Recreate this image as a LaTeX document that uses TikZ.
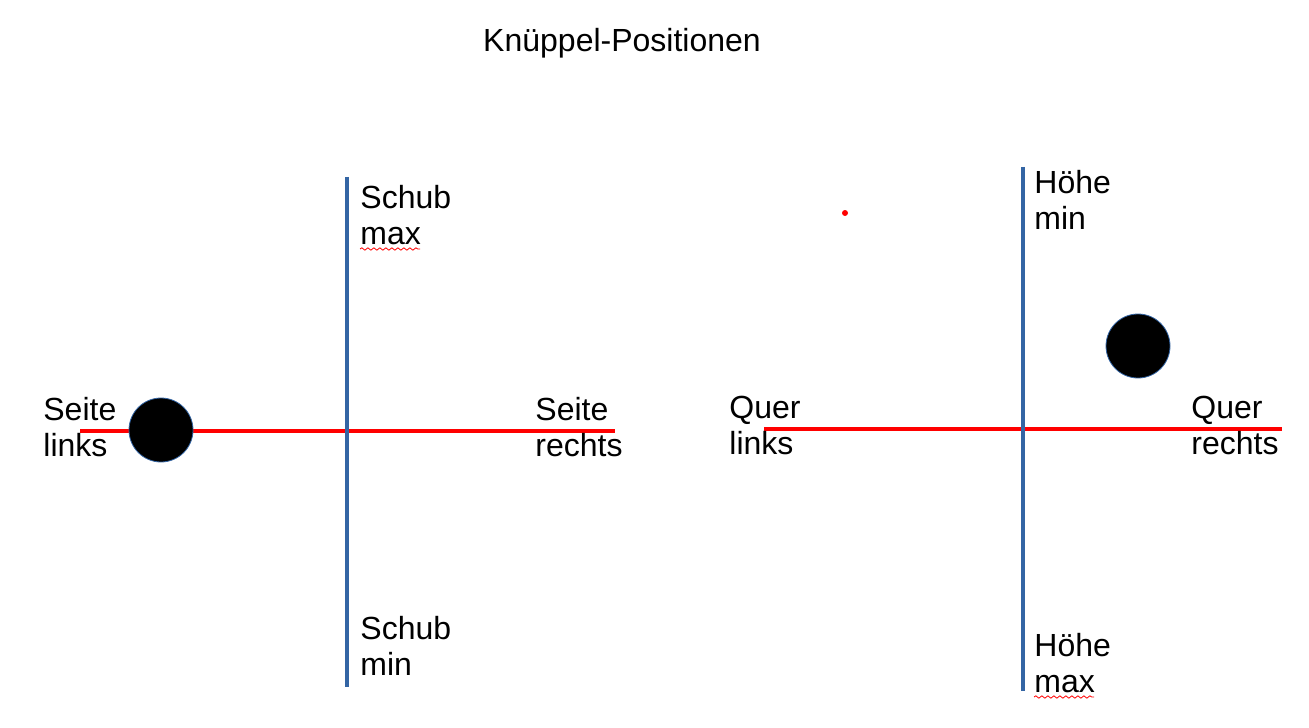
\documentclass[tikz,border=0pt]{standalone}
\usepackage{fontspec}
\setmainfont{Liberation Sans}
\usepackage{tikz}
\usetikzlibrary{decorations.pathmorphing}
\definecolor{axisblue}{HTML}{3465A4}
\definecolor{axisred}{HTML}{FF0000}
\tikzset{
  vaxis/.style={draw=axisblue, line width=2pt},
  haxis/.style={draw=axisred, line width=2pt},
  knob/.style={circle, fill=black, draw=axisblue, line width=0.4pt, minimum size=32pt, inner sep=0pt},
  lbl/.style={font=\fontsize{16}{18}\selectfont, align=left, anchor=base west, inner sep=0pt},
  spell/.style={draw=axisred, line width=0.4pt, decorate, decoration={snake, amplitude=0.6pt, segment length=3pt}},
}

\begin{document}
\begin{tikzpicture}[x=0.5pt, y=-0.5pt]
\fill[white] (0,0) rectangle (1309,727);
\useasboundingbox (0,0) rectangle (1309,727);

\node[lbl, anchor=base] (title) at (622,52) {Knüppel-Positionen};

% left stick: Schub / Seite
\coordinate (schubtop) at (347,177);
\coordinate (schubbot) at (347,687);
\coordinate (seitel) at (80,431);
\coordinate (seiter) at (615,431);
\draw[haxis] (seitel) -- (seiter);
\draw[vaxis] (schubtop) -- (schubbot);
\node[knob] (knobl) at (161,430) {};
\node[lbl] (schubmax) at (360,244) {Schub\\max};
\node[lbl] (schubmin) at (360,675) {Schub\\min};
\node[lbl] (seitelinks) at (43,456) {Seite\\links};
\node[lbl] (seiterechts) at (535,456) {Seite\\rechts};

% right stick: Hoehe / Quer
\coordinate (hoehetop) at (1023,167);
\coordinate (hoehebot) at (1023,691);
\coordinate (querl) at (764,429);
\coordinate (querr) at (1282,429);
\draw[haxis] (querl) -- (querr);
\draw[vaxis] (hoehetop) -- (hoehebot);
\node[knob] (knobr) at (1138,346) {};
\node[lbl] (hoehemin) at (1034,229) {Höhe\\min};
\node[lbl] (hoehemax) at (1034,692) {Höhe\\max};
\node[lbl] (querlinks) at (729,454) {Quer\\links};
\node[lbl] (querrechts) at (1191,454) {Quer\\rechts};

\fill[axisred] (845,213) circle (1.5pt);

% spell check marks
\draw[spell] ([yshift=-2.5pt]schubmax.base west) -- ++(60,0);
\draw[spell] ([yshift=-2.5pt]hoehemax.base west) -- ++(60,0);
\end{tikzpicture}
\end{document}
